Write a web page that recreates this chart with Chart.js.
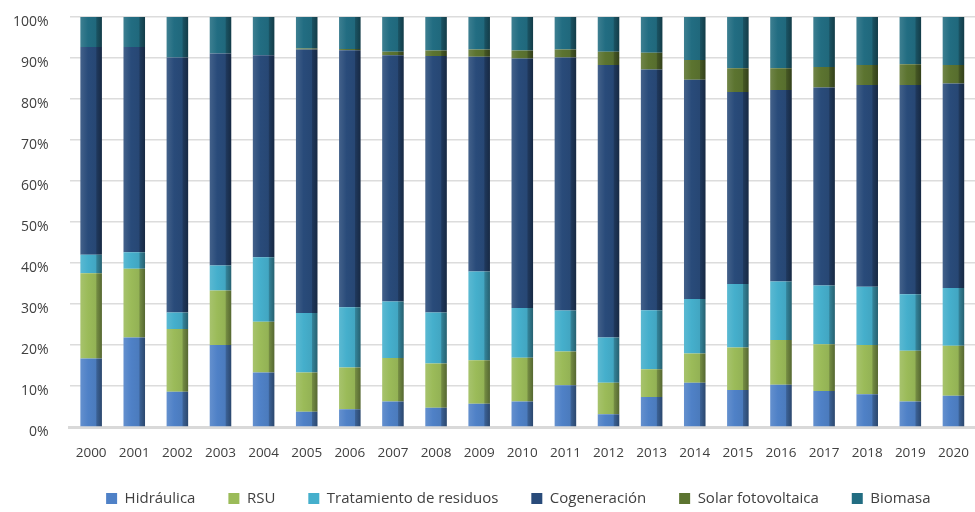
<!DOCTYPE html>
<html lang="es">
<head>
  <meta charset="UTF-8" />
  <title>Producción por tecnología 2000-2020</title>
  <script src="https://cdn.jsdelivr.net/npm/chart.js"></script>
  <style>
    * { margin: 0; padding: 0; box-sizing: border-box; }
    body { background: #fff; width: 975px; height: 512px; overflow: hidden; }
    .chart-box { position: relative; width: 975px; height: 512px; }
  </style>
</head>
<body>
  <div class="chart-box">
    <canvas id="mix-chart" width="975" height="512"></canvas>
  </div>

  <script>
// Share of each technology per year (%)
const years = ['2000','2001','2002','2003','2004','2005','2006','2007','2008','2009','2010',
               '2011','2012','2013','2014','2015','2016','2017','2018','2019','2020'];

const hidraulica   = [16.7, 21.8, 8.6, 20.0, 13.3, 3.7, 4.3, 6.2, 4.7, 5.7, 6.2,
                      10.2, 3.1, 7.3, 10.8, 9.0, 10.3, 8.8, 8.0, 6.2, 7.6];
const rsu          = [20.8, 16.8, 15.3, 13.3, 12.4, 9.6, 10.2, 10.6, 10.8, 10.6, 10.7,
                      8.2, 7.7, 6.8, 7.1, 10.4, 10.9, 11.4, 12.0, 12.4, 12.2];
const tratamiento  = [4.5, 4.0, 4.0, 6.1, 15.7, 14.5, 14.7, 13.8, 12.4, 21.6, 12.1,
                      10.0, 11.0, 14.4, 13.3, 15.5, 14.3, 14.3, 14.2, 13.8, 14.1];
const cogeneracion = [50.7, 50.1, 62.2, 51.7, 49.3, 64.3, 62.7, 60.1, 62.6, 52.4, 60.9,
                      61.7, 66.5, 58.7, 53.5, 46.8, 46.7, 48.3, 49.2, 51.0, 49.9];
const solar        = [0, 0, 0, 0, 0, 0.2, 0.3, 0.8, 1.3, 1.8, 1.9,
                      2.0, 3.2, 4.1, 4.8, 5.8, 5.3, 5.0, 4.9, 5.1, 4.5];
const biomasa      = [7.3, 7.3, 9.9, 8.9, 9.3, 7.7, 7.8, 8.5, 8.2, 7.9, 8.2,
                      7.9, 8.5, 8.7, 10.5, 12.5, 12.5, 12.2, 11.7, 11.5, 11.7];

const yTicks = [0, 10, 20, 30, 40, 50, 60, 70, 80, 90, 100];

const BAR_PCT = 0.5;

// lighten (f > 0) or darken (f < 0) a hex colour
function shade(hex, f) {
  const n = parseInt(hex.slice(1), 16);
  let r = (n >> 16) & 255, g = (n >> 8) & 255, b = n & 255;
  const t = f < 0 ? 0 : 255, p = Math.abs(f);
  r = Math.round((t - r) * p + r);
  g = Math.round((t - g) * p + g);
  b = Math.round((t - b) * p + b);
  return `rgb(${r},${g},${b})`;
}

// horizontal gradient so each bar looks like a shaded column with a dark side
function barFill(base) {
  return (ctx) => {
    const chart = ctx.chart;
    const x = chart.scales && chart.scales.x;
    if (ctx.type !== 'data' || !x || !chart.chartArea) return base;
    const cx = x.getPixelForValue(ctx.dataIndex);
    const w = (x.width / years.length) * BAR_PCT;
    const g = chart.ctx.createLinearGradient(cx - w / 2, 0, cx + w / 2, 0);
    g.addColorStop(0, shade(base, 0.12));
    g.addColorStop(0.35, base);
    g.addColorStop(0.72, shade(base, -0.05));
    g.addColorStop(0.76, shade(base, -0.25));
    g.addColorStop(1, shade(base, -0.45));
    return g;
  };
}

function makeSet(label, data, color) {
  return {
    label: label,
    data: data,
    baseColor: color,
    backgroundColor: barFill(color),
    borderWidth: 0,
    barPercentage: BAR_PCT,
    categoryPercentage: 1
  };
}

// centre the legend under the plot area instead of the whole canvas
const legendUnderPlot = {
  id: 'legendUnderPlot',
  afterLayout(chart) {
    const lg = chart.legend, area = chart.chartArea;
    if (!lg || !area) return;
    const dx = (area.left + area.right) / 2 - (lg.left + lg.right) / 2 - 4;
    lg.left += dx;
    lg.right += dx;
  }
};

const ctx = document.getElementById('mix-chart').getContext('2d');
new Chart(ctx, {
  type: 'bar',
  data: {
    labels: years,
    datasets: [
      makeSet('Hidráulica', hidraulica, '#4f81c7'),
      makeSet('RSU', rsu, '#9bbb59'),
      makeSet('Tratamiento de residuos', tratamiento, '#45afcc'),
      makeSet('Cogeneración', cogeneracion, '#294b7a'),
      makeSet('Solar fotovoltaica', solar, '#5c7430'),
      makeSet('Biomasa', biomasa, '#226d82')
    ]
  },
  plugins: [legendUnderPlot],
  options: {
    responsive: false,
    animation: false,
    devicePixelRatio: 1,
    layout: { padding: { top: 17, right: 0, bottom: -4, left: -8 } },
    plugins: {
      tooltip: { enabled: false },
      legend: {
        position: 'bottom',
        labels: {
          boxWidth: 11,
          boxHeight: 11,
          padding: 33,
          color: '#404040',
          font: { family: 'Open Sans', size: 15 },
          generateLabels: (chart) => chart.data.datasets.map((ds, i) => ({
            text: ds.label,
            fillStyle: ds.baseColor,
            strokeStyle: ds.baseColor,
            lineWidth: 0,
            fontColor: '#404040',
            hidden: false,
            datasetIndex: i
          }))
        }
      }
    },
    scales: {
      x: {
        stacked: true,
        grid: { display: false, drawTicks: false },
        border: { display: true, color: '#d9d9d9', width: 3 },
        ticks: {
          padding: 18,
          color: '#404040',
          maxRotation: 0,
          autoSkip: false,
          font: { family: 'Open Sans', size: 13.5 }
        },
        afterFit: (scale) => {
          scale.height = 31;
          scale.paddingLeft = 0;
          scale.paddingRight = 0;
        }
      },
      y: {
        stacked: true,
        min: 0,
        max: 100,
        afterBuildTicks: (scale) => { scale.ticks = yTicks.map(v => ({ value: v })); },
        afterFit: (scale) => {
          scale.paddingTop = 0;
          scale.paddingBottom = 0;
        },
        grid: { color: '#dcdcdc', lineWidth: 1.5, drawTicks: false },
        border: { display: false },
        ticks: {
          padding: 21,
          labelOffset: 5,
          color: '#404040',
          font: { family: 'Open Sans', size: 14 },
          callback: (v) => v + '%'
        }
      }
    }
  }
});
  </script>
</body>
</html>
